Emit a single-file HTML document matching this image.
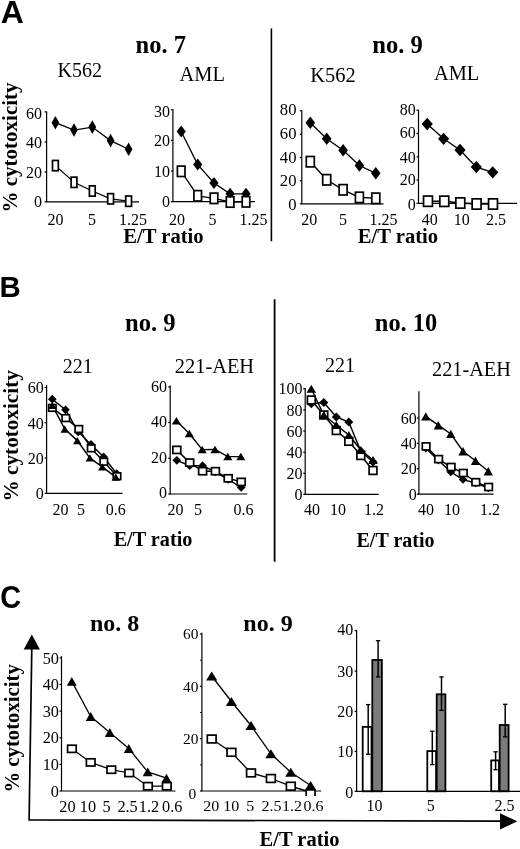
<!DOCTYPE html>
<html><head><meta charset="utf-8"><title>Figure</title>
<style>
html,body{margin:0;padding:0;background:#fff;}
body{width:520px;height:849px;overflow:hidden;}
svg{display:block;filter:grayscale(1);}
.sf{font-family:"Liberation Serif",serif;fill:#000;}
.ss{font-family:"Liberation Sans",sans-serif;fill:#000;}
.b{font-weight:bold;}
</style></head><body>
<svg width="520" height="849" viewBox="0 0 520 849">
<rect x="0" y="0" width="520" height="849" fill="#fff"/>
<text x="0" y="0" font-size="30.9" class="ss b" transform="translate(0.7 23.2) scale(1.035 1)">A</text>
<text x="160.8" y="52.6" font-size="24.5" text-anchor="middle" class="sf b">no. 7</text>
<text x="397.5" y="53.3" font-size="24.6" text-anchor="middle" class="sf b">no. 9</text>
<text x="57.5" y="77.2" font-size="20" text-anchor="start" class="sf">K562</text>
<text x="179.6" y="81.4" font-size="20.4" text-anchor="start" class="sf">AML</text>
<text x="310.2" y="81.6" font-size="20.5" text-anchor="start" class="sf">K562</text>
<text x="434" y="80" font-size="20.4" text-anchor="start" class="sf">AML</text>
<text x="16.8" y="212.5" font-size="21.0" text-anchor="start" class="sf b" transform="rotate(-90 16.8 212.5)">% cytotoxicity</text>
<text x="163.5" y="243.3" font-size="20.6" text-anchor="middle" class="sf b">E/T ratio</text>
<text x="398" y="243.3" font-size="20.6" text-anchor="middle" class="sf b">E/T ratio</text>
<line x1="271.4" y1="28.5" x2="271.4" y2="241.2" stroke="#000" stroke-width="1.6"/>
<line x1="46.6" y1="111.4" x2="46.6" y2="201.8" stroke="#000" stroke-width="1.2"/>
<line x1="46.0" y1="201.8" x2="139" y2="201.8" stroke="#000" stroke-width="1.2"/>
<line x1="44.6" y1="111.9" x2="46.6" y2="111.9" stroke="#000" stroke-width="1.2"/>
<text x="42.1" y="118.91" font-size="16" text-anchor="end" class="sf">60</text>
<line x1="44.6" y1="142" x2="46.6" y2="142" stroke="#000" stroke-width="1.2"/>
<text x="42.1" y="148.31" font-size="16" text-anchor="end" class="sf">40</text>
<line x1="44.6" y1="171.9" x2="46.6" y2="171.9" stroke="#000" stroke-width="1.2"/>
<text x="42.1" y="178.11" font-size="16" text-anchor="end" class="sf">20</text>
<line x1="44.6" y1="201.8" x2="46.6" y2="201.8" stroke="#000" stroke-width="1.2"/>
<text x="42.1" y="207.31" font-size="16" text-anchor="end" class="sf">0</text>
<text x="55.4" y="224.6" font-size="16" text-anchor="middle" class="sf">20</text>
<text x="92" y="224.6" font-size="16" text-anchor="middle" class="sf">5</text>
<text x="133" y="224.6" font-size="16" text-anchor="middle" class="sf">1.25</text>
<polyline points="55.4,122.7 74,130 92.3,127.1 110.6,140.6 128.6,149.2" fill="none" stroke="#000" stroke-width="1.25"/>
<polyline points="55.4,165.6 74,182.3 92.3,191 110.6,198.8 128.6,201.2" fill="none" stroke="#000" stroke-width="1.25"/>
<polygon points="55.4,115.9 59.25,122.7 55.4,129.5 51.55,122.7" fill="#000"/>
<polygon points="74,123.2 77.85,130 74,136.8 70.15,130" fill="#000"/>
<polygon points="92.3,120.3 96.14999999999999,127.1 92.3,133.9 88.45,127.1" fill="#000"/>
<polygon points="110.6,133.79999999999998 114.44999999999999,140.6 110.6,147.4 106.75,140.6" fill="#000"/>
<polygon points="128.6,142.39999999999998 132.45,149.2 128.6,156.0 124.75,149.2" fill="#000"/>
<rect x="52.5" y="160.45" width="5.8" height="10.3" fill="#fff" stroke="#000" stroke-width="1.7"/>
<rect x="71.1" y="177.15" width="5.8" height="10.3" fill="#fff" stroke="#000" stroke-width="1.7"/>
<rect x="89.39999999999999" y="185.85" width="5.8" height="10.3" fill="#fff" stroke="#000" stroke-width="1.7"/>
<rect x="107.69999999999999" y="193.65" width="5.8" height="10.3" fill="#fff" stroke="#000" stroke-width="1.7"/>
<rect x="125.69999999999999" y="196.04999999999998" width="5.8" height="10.3" fill="#fff" stroke="#000" stroke-width="1.7"/>
<line x1="172.9" y1="109.3" x2="172.9" y2="201.7" stroke="#000" stroke-width="1.2"/>
<line x1="172.3" y1="201.7" x2="255" y2="201.7" stroke="#000" stroke-width="1.2"/>
<line x1="170.9" y1="109.8" x2="172.9" y2="109.8" stroke="#000" stroke-width="1.2"/>
<text x="170.1" y="117.31" font-size="16" text-anchor="end" class="sf">30</text>
<line x1="170.9" y1="140.3" x2="172.9" y2="140.3" stroke="#000" stroke-width="1.2"/>
<text x="170.1" y="146.11" font-size="16" text-anchor="end" class="sf">20</text>
<line x1="170.9" y1="171" x2="172.9" y2="171" stroke="#000" stroke-width="1.2"/>
<text x="170.1" y="176.81" font-size="16" text-anchor="end" class="sf">10</text>
<line x1="170.9" y1="201.7" x2="172.9" y2="201.7" stroke="#000" stroke-width="1.2"/>
<text x="170.1" y="206.71" font-size="16" text-anchor="end" class="sf">0</text>
<text x="177" y="224.6" font-size="16" text-anchor="middle" class="sf">20</text>
<text x="212.6" y="224.6" font-size="16" text-anchor="middle" class="sf">5</text>
<text x="253.5" y="224.6" font-size="16" text-anchor="middle" class="sf">1.25</text>
<polyline points="181.2,131.5 197.7,164.6 214,183 230.1,193.8 246,193.8" fill="none" stroke="#000" stroke-width="1.3"/>
<polyline points="181.2,171.3 197.7,195.8 214,198.3 230.1,202 246,201.8" fill="none" stroke="#000" stroke-width="1.3"/>
<polygon points="181.2,125.5 185.79999999999998,131.5 181.2,137.5 176.6,131.5" fill="#000"/>
<polygon points="197.7,158.6 202.29999999999998,164.6 197.7,170.6 193.1,164.6" fill="#000"/>
<polygon points="214,177.0 218.6,183 214,189.0 209.4,183" fill="#000"/>
<polygon points="230.1,187.8 234.7,193.8 230.1,199.8 225.5,193.8" fill="#000"/>
<polygon points="246,187.8 250.6,193.8 246,199.8 241.4,193.8" fill="#000"/>
<rect x="177.39999999999998" y="166.10000000000002" width="7.6" height="10.4" fill="#fff" stroke="#000" stroke-width="1.7"/>
<rect x="193.89999999999998" y="190.60000000000002" width="7.6" height="10.4" fill="#fff" stroke="#000" stroke-width="1.7"/>
<rect x="210.2" y="193.10000000000002" width="7.6" height="10.4" fill="#fff" stroke="#000" stroke-width="1.7"/>
<rect x="226.29999999999998" y="196.8" width="7.6" height="10.4" fill="#fff" stroke="#000" stroke-width="1.7"/>
<rect x="242.2" y="196.60000000000002" width="7.6" height="10.4" fill="#fff" stroke="#000" stroke-width="1.7"/>
<line x1="301.8" y1="110.3" x2="301.8" y2="203.8" stroke="#000" stroke-width="1.2"/>
<line x1="301.2" y1="203.8" x2="383.5" y2="203.8" stroke="#000" stroke-width="1.2"/>
<line x1="299.8" y1="110.8" x2="301.8" y2="110.8" stroke="#000" stroke-width="1.2"/>
<text x="296.5" y="115.11" font-size="16" text-anchor="end" class="sf" textLength="16.64" lengthAdjust="spacingAndGlyphs">80</text>
<line x1="299.8" y1="134.3" x2="301.8" y2="134.3" stroke="#000" stroke-width="1.2"/>
<text x="296.5" y="138.81" font-size="16" text-anchor="end" class="sf" textLength="16.64" lengthAdjust="spacingAndGlyphs">60</text>
<line x1="299.8" y1="157.5" x2="301.8" y2="157.5" stroke="#000" stroke-width="1.2"/>
<text x="296.5" y="163.01" font-size="16" text-anchor="end" class="sf" textLength="16.64" lengthAdjust="spacingAndGlyphs">40</text>
<line x1="299.8" y1="180.8" x2="301.8" y2="180.8" stroke="#000" stroke-width="1.2"/>
<text x="296.5" y="185.51" font-size="16" text-anchor="end" class="sf" textLength="16.64" lengthAdjust="spacingAndGlyphs">20</text>
<line x1="299.8" y1="203.8" x2="301.8" y2="203.8" stroke="#000" stroke-width="1.2"/>
<text x="296.5" y="210.01" font-size="16" text-anchor="end" class="sf" textLength="8.32" lengthAdjust="spacingAndGlyphs">0</text>
<text x="309.2" y="224.7" font-size="16" text-anchor="middle" class="sf">20</text>
<text x="343" y="224.7" font-size="16" text-anchor="middle" class="sf">5</text>
<text x="383.5" y="224.7" font-size="16" text-anchor="middle" class="sf">1.25</text>
<polyline points="310.3,122.7 326.7,138.8 343.1,150.3 359.4,165.5 375.8,173.3" fill="none" stroke="#000" stroke-width="1.35"/>
<polyline points="310.3,161.7 326.7,179.8 343.1,189.8 359.4,197.4 375.8,198.3" fill="none" stroke="#000" stroke-width="1.45"/>
<polygon points="310.3,116.5 315.1,122.7 310.3,128.9 305.5,122.7" fill="#000"/>
<polygon points="326.7,132.60000000000002 331.5,138.8 326.7,145.0 321.9,138.8" fill="#000"/>
<polygon points="343.1,144.10000000000002 347.90000000000003,150.3 343.1,156.5 338.3,150.3" fill="#000"/>
<polygon points="359.4,159.3 364.2,165.5 359.4,171.7 354.59999999999997,165.5" fill="#000"/>
<polygon points="375.8,167.10000000000002 380.6,173.3 375.8,179.5 371.0,173.3" fill="#000"/>
<rect x="306.3" y="156.5" width="8" height="10.4" fill="#fff" stroke="#000" stroke-width="1.7"/>
<rect x="322.7" y="174.60000000000002" width="8" height="10.4" fill="#fff" stroke="#000" stroke-width="1.7"/>
<rect x="339.1" y="184.60000000000002" width="8" height="10.4" fill="#fff" stroke="#000" stroke-width="1.7"/>
<rect x="355.4" y="192.20000000000002" width="8" height="10.4" fill="#fff" stroke="#000" stroke-width="1.7"/>
<rect x="371.8" y="193.10000000000002" width="8" height="10.4" fill="#fff" stroke="#000" stroke-width="1.7"/>
<line x1="418.5" y1="109.7" x2="418.5" y2="203.3" stroke="#000" stroke-width="1.2"/>
<line x1="417.9" y1="203.3" x2="517" y2="203.3" stroke="#000" stroke-width="1.2"/>
<line x1="416.5" y1="110.2" x2="418.5" y2="110.2" stroke="#000" stroke-width="1.2"/>
<text x="415.7" y="114.61" font-size="16" text-anchor="end" class="sf">80</text>
<line x1="416.5" y1="133.5" x2="418.5" y2="133.5" stroke="#000" stroke-width="1.2"/>
<text x="415.7" y="138.31" font-size="16" text-anchor="end" class="sf">60</text>
<line x1="416.5" y1="156.9" x2="418.5" y2="156.9" stroke="#000" stroke-width="1.2"/>
<text x="415.7" y="162.71" font-size="16" text-anchor="end" class="sf">40</text>
<line x1="416.5" y1="180.1" x2="418.5" y2="180.1" stroke="#000" stroke-width="1.2"/>
<text x="415.7" y="185.41" font-size="16" text-anchor="end" class="sf">20</text>
<line x1="416.5" y1="203.3" x2="418.5" y2="203.3" stroke="#000" stroke-width="1.2"/>
<text x="415.7" y="209.71" font-size="16" text-anchor="end" class="sf">0</text>
<text x="429.8" y="224.6" font-size="16" text-anchor="middle" class="sf">40</text>
<text x="461.7" y="224.6" font-size="16" text-anchor="middle" class="sf">10</text>
<text x="496" y="224.6" font-size="16" text-anchor="middle" class="sf">2.5</text>
<polyline points="427.2,124 443.6,138.8 460,150 476.3,167.1 492.7,172.3" fill="none" stroke="#000" stroke-width="1.35"/>
<polyline points="428,201.2 444.3,201.3 460.3,203 476.6,204 493,204" fill="none" stroke="#000" stroke-width="1.45"/>
<polygon points="427.2,117.85 432.8,124 427.2,130.15 421.59999999999997,124" fill="#000"/>
<polygon points="443.6,132.65 449.20000000000005,138.8 443.6,144.95000000000002 438.0,138.8" fill="#000"/>
<polygon points="460,143.85 465.6,150 460,156.15 454.4,150" fill="#000"/>
<polygon points="476.3,160.95 481.90000000000003,167.1 476.3,173.25 470.7,167.1" fill="#000"/>
<polygon points="492.7,166.15 498.3,172.3 492.7,178.45000000000002 487.09999999999997,172.3" fill="#000"/>
<rect x="423.55" y="196.04999999999998" width="8.9" height="10.3" fill="#fff" stroke="#000" stroke-width="1.7"/>
<rect x="439.85" y="196.15" width="8.9" height="10.3" fill="#fff" stroke="#000" stroke-width="1.7"/>
<rect x="455.85" y="197.85" width="8.9" height="10.3" fill="#fff" stroke="#000" stroke-width="1.7"/>
<rect x="472.15000000000003" y="198.85" width="8.9" height="10.3" fill="#fff" stroke="#000" stroke-width="1.7"/>
<rect x="488.55" y="198.85" width="8.9" height="10.3" fill="#fff" stroke="#000" stroke-width="1.7"/>
<text x="0" y="0" font-size="30.2" class="ss b" transform="translate(-0.5 296.9) scale(0.975 1)">B</text>
<text x="150.3" y="331.2" font-size="24.6" text-anchor="middle" class="sf b">no. 9</text>
<text x="406" y="331" font-size="24.4" text-anchor="middle" class="sf b">no. 10</text>
<text x="62.7" y="372.6" font-size="20" text-anchor="start" class="sf">221</text>
<text x="174.8" y="373.4" font-size="20.4" text-anchor="start" class="sf">221-AEH</text>
<text x="325" y="371.5" font-size="20" text-anchor="start" class="sf">221</text>
<text x="432" y="375.7" font-size="20.3" text-anchor="start" class="sf">221-AEH</text>
<text x="17.7" y="501.4" font-size="21.2" text-anchor="start" class="sf b" transform="rotate(-90 17.7 501.4)">% cytotoxicity</text>
<text x="153" y="545.8" font-size="20.2" text-anchor="middle" class="sf b">E/T ratio</text>
<text x="395.5" y="546.7" font-size="20" text-anchor="middle" class="sf b">E/T ratio</text>
<line x1="274.6" y1="299.3" x2="274.6" y2="561.8" stroke="#000" stroke-width="1.8"/>
<line x1="46.6" y1="385.3" x2="46.6" y2="493.3" stroke="#000" stroke-width="1.2"/>
<line x1="46.0" y1="493.3" x2="122.5" y2="493.3" stroke="#000" stroke-width="1.2"/>
<line x1="44.6" y1="387.5" x2="46.6" y2="387.5" stroke="#000" stroke-width="1.2"/>
<text x="43.7" y="393.21" font-size="16" text-anchor="end" class="sf">60</text>
<line x1="44.6" y1="422.8" x2="46.6" y2="422.8" stroke="#000" stroke-width="1.2"/>
<text x="43.7" y="428.51" font-size="16" text-anchor="end" class="sf">40</text>
<line x1="44.6" y1="458" x2="46.6" y2="458" stroke="#000" stroke-width="1.2"/>
<text x="43.7" y="463.91" font-size="16" text-anchor="end" class="sf">20</text>
<line x1="44.6" y1="493.3" x2="46.6" y2="493.3" stroke="#000" stroke-width="1.2"/>
<text x="43.7" y="499.21" font-size="16" text-anchor="end" class="sf">0</text>
<text x="60.4" y="515" font-size="16" text-anchor="middle" class="sf">20</text>
<text x="81" y="515" font-size="16" text-anchor="middle" class="sf">5</text>
<text x="115.7" y="515" font-size="16" text-anchor="middle" class="sf">0.6</text>
<polyline points="52.3,399.2 65.5,409.8 78.3,431.9 91,444.4 103.7,456.9 116.7,473.7" fill="none" stroke="#000" stroke-width="1.45"/>
<polyline points="52.3,407.9 65.8,418.1 78.8,429 91.2,448.3 103.8,461.7 117,476.2" fill="none" stroke="#000" stroke-width="1.45"/>
<polyline points="52.3,405.3 64.8,429 77.3,440.6 89.8,457.9 102.3,466.9 115.8,477.1" fill="none" stroke="#000" stroke-width="1.45"/>
<polygon points="52.3,394.84999999999997 56.65,399.2 52.3,403.55 47.949999999999996,399.2" fill="#000"/>
<polygon points="65.5,405.45 69.85,409.8 65.5,414.15000000000003 61.15,409.8" fill="#000"/>
<polygon points="78.3,427.54999999999995 82.64999999999999,431.9 78.3,436.25 73.95,431.9" fill="#000"/>
<polygon points="91,440.04999999999995 95.35,444.4 91,448.75 86.65,444.4" fill="#000"/>
<polygon points="103.7,452.54999999999995 108.05,456.9 103.7,461.25 99.35000000000001,456.9" fill="#000"/>
<polygon points="116.7,469.34999999999997 121.05,473.7 116.7,478.05 112.35000000000001,473.7" fill="#000"/>
<rect x="48.599999999999994" y="404.54999999999995" width="7.4" height="6.7" fill="#fff" stroke="#000" stroke-width="1.7"/>
<rect x="62.099999999999994" y="414.75" width="7.4" height="6.7" fill="#fff" stroke="#000" stroke-width="1.7"/>
<rect x="75.1" y="425.65" width="7.4" height="6.7" fill="#fff" stroke="#000" stroke-width="1.7"/>
<rect x="87.5" y="444.95" width="7.4" height="6.7" fill="#fff" stroke="#000" stroke-width="1.7"/>
<rect x="100.1" y="458.34999999999997" width="7.4" height="6.7" fill="#fff" stroke="#000" stroke-width="1.7"/>
<rect x="113.3" y="472.84999999999997" width="7.4" height="6.7" fill="#fff" stroke="#000" stroke-width="1.7"/>
<polygon points="52.3,401.65000000000003 56.5,408.95 48.099999999999994,408.95" fill="#000"/>
<polygon points="64.8,425.35 69.0,432.65 60.599999999999994,432.65" fill="#000"/>
<polygon points="77.3,436.95000000000005 81.5,444.25 73.1,444.25" fill="#000"/>
<polygon points="89.8,454.25 94.0,461.54999999999995 85.6,461.54999999999995" fill="#000"/>
<polygon points="102.3,463.25 106.5,470.54999999999995 98.1,470.54999999999995" fill="#000"/>
<polygon points="115.8,473.45000000000005 120.0,480.75 111.6,480.75" fill="#000"/>
<line x1="170.2" y1="385.5" x2="170.2" y2="494" stroke="#000" stroke-width="1.2"/>
<line x1="169.6" y1="494" x2="247.3" y2="494" stroke="#000" stroke-width="1.2"/>
<line x1="168.2" y1="387" x2="170.2" y2="387" stroke="#000" stroke-width="1.2"/>
<text x="166.9" y="392.31" font-size="16" text-anchor="end" class="sf">60</text>
<line x1="168.2" y1="422.5" x2="170.2" y2="422.5" stroke="#000" stroke-width="1.2"/>
<text x="166.9" y="427.41" font-size="16" text-anchor="end" class="sf">40</text>
<line x1="168.2" y1="458.2" x2="170.2" y2="458.2" stroke="#000" stroke-width="1.2"/>
<text x="166.9" y="462.71" font-size="16" text-anchor="end" class="sf">20</text>
<line x1="168.2" y1="494" x2="170.2" y2="494" stroke="#000" stroke-width="1.2"/>
<text x="166.9" y="498.41" font-size="16" text-anchor="end" class="sf">0</text>
<text x="175.6" y="515.2" font-size="16" text-anchor="middle" class="sf">20</text>
<text x="197.9" y="515.2" font-size="16" text-anchor="middle" class="sf">5</text>
<text x="243.6" y="515.2" font-size="16" text-anchor="middle" class="sf">0.6</text>
<polyline points="176.8,460.3 189.7,465.7 202.6,465.7 215.4,472 228.2,479.4 241.2,487.5" fill="none" stroke="#000" stroke-width="1.45"/>
<polyline points="176.8,449.9 189.7,462.6 202.6,471.2 215.4,471.2 228.2,478.3 241.2,481.9" fill="none" stroke="#000" stroke-width="1.45"/>
<polyline points="176.4,420.8 189.29999999999998,433.6 202.2,449.6 215.0,449.4 227.79999999999998,456.6 240.79999999999998,456.6" fill="none" stroke="#000" stroke-width="1.45"/>
<polygon points="176.8,455.95 181.15,460.3 176.8,464.65000000000003 172.45000000000002,460.3" fill="#000"/>
<polygon points="189.7,461.34999999999997 194.04999999999998,465.7 189.7,470.05 185.35,465.7" fill="#000"/>
<polygon points="202.6,461.34999999999997 206.95,465.7 202.6,470.05 198.25,465.7" fill="#000"/>
<polygon points="215.4,467.65 219.75,472 215.4,476.35 211.05,472" fill="#000"/>
<polygon points="228.2,475.04999999999995 232.54999999999998,479.4 228.2,483.75 223.85,479.4" fill="#000"/>
<polygon points="241.2,483.15 245.54999999999998,487.5 241.2,491.85 236.85,487.5" fill="#000"/>
<rect x="172.85000000000002" y="446.34999999999997" width="7.9" height="7.1" fill="#fff" stroke="#000" stroke-width="1.7"/>
<rect x="185.75" y="459.05" width="7.9" height="7.1" fill="#fff" stroke="#000" stroke-width="1.7"/>
<rect x="198.65" y="467.65" width="7.9" height="7.1" fill="#fff" stroke="#000" stroke-width="1.7"/>
<rect x="211.45000000000002" y="467.65" width="7.9" height="7.1" fill="#fff" stroke="#000" stroke-width="1.7"/>
<rect x="224.25" y="474.75" width="7.9" height="7.1" fill="#fff" stroke="#000" stroke-width="1.7"/>
<rect x="237.25" y="478.34999999999997" width="7.9" height="7.1" fill="#fff" stroke="#000" stroke-width="1.7"/>
<polygon points="176.4,417.05 180.95000000000002,424.55 171.85,424.55" fill="#000"/>
<polygon points="189.29999999999998,429.85 193.85,437.35 184.74999999999997,437.35" fill="#000"/>
<polygon points="202.2,445.85 206.75,453.35 197.64999999999998,453.35" fill="#000"/>
<polygon points="215.0,445.65 219.55,453.15 210.45,453.15" fill="#000"/>
<polygon points="227.79999999999998,452.85 232.35,460.35 223.24999999999997,460.35" fill="#000"/>
<polygon points="240.79999999999998,452.85 245.35,460.35 236.24999999999997,460.35" fill="#000"/>
<line x1="305.2" y1="388.0" x2="305.2" y2="494.4" stroke="#000" stroke-width="1.2"/>
<line x1="304.59999999999997" y1="494.4" x2="378.8" y2="494.4" stroke="#000" stroke-width="1.2"/>
<line x1="303.2" y1="388.8" x2="305.2" y2="388.8" stroke="#000" stroke-width="1.2"/>
<text x="302.6" y="394.31" font-size="16" text-anchor="end" class="sf">100</text>
<line x1="303.2" y1="409.9" x2="305.2" y2="409.9" stroke="#000" stroke-width="1.2"/>
<text x="302.6" y="416.01" font-size="16" text-anchor="end" class="sf">80</text>
<line x1="303.2" y1="431" x2="305.2" y2="431" stroke="#000" stroke-width="1.2"/>
<text x="302.6" y="437.21" font-size="16" text-anchor="end" class="sf">60</text>
<line x1="303.2" y1="452.2" x2="305.2" y2="452.2" stroke="#000" stroke-width="1.2"/>
<text x="302.6" y="458.11" font-size="16" text-anchor="end" class="sf">40</text>
<line x1="303.2" y1="473.3" x2="305.2" y2="473.3" stroke="#000" stroke-width="1.2"/>
<text x="302.6" y="479.31" font-size="16" text-anchor="end" class="sf">20</text>
<line x1="303.2" y1="494.4" x2="305.2" y2="494.4" stroke="#000" stroke-width="1.2"/>
<text x="302.6" y="500.01" font-size="16" text-anchor="end" class="sf">0</text>
<text x="312" y="514.6" font-size="16" text-anchor="middle" class="sf">40</text>
<text x="338" y="514.6" font-size="16" text-anchor="middle" class="sf">10</text>
<text x="374" y="514.6" font-size="16" text-anchor="middle" class="sf">1.2</text>
<polyline points="311.3,403.8 323.8,402.5 336.3,417 348.8,422 360.8,451.3 373,462" fill="none" stroke="#000" stroke-width="1.45"/>
<polyline points="311.3,400 323.8,415 336.3,430.5 348.8,441.3 360.8,455.5 373,470.5" fill="none" stroke="#000" stroke-width="1.45"/>
<polyline points="311.3,388.8 323.8,415 336.3,425 348.8,435 360.8,450 373,460" fill="none" stroke="#000" stroke-width="1.45"/>
<polygon points="311.3,399.3 315.8,403.8 311.3,408.3 306.8,403.8" fill="#000"/>
<polygon points="323.8,398.0 328.3,402.5 323.8,407.0 319.3,402.5" fill="#000"/>
<polygon points="336.3,412.5 340.8,417 336.3,421.5 331.8,417" fill="#000"/>
<polygon points="348.8,417.5 353.3,422 348.8,426.5 344.3,422" fill="#000"/>
<polygon points="360.8,446.8 365.3,451.3 360.8,455.8 356.3,451.3" fill="#000"/>
<polygon points="373,457.5 377.5,462 373,466.5 368.5,462" fill="#000"/>
<rect x="307.40000000000003" y="396.1" width="7.8" height="7.8" fill="#fff" stroke="#000" stroke-width="1.7"/>
<rect x="319.90000000000003" y="411.1" width="7.8" height="7.8" fill="#fff" stroke="#000" stroke-width="1.7"/>
<rect x="332.40000000000003" y="426.6" width="7.8" height="7.8" fill="#fff" stroke="#000" stroke-width="1.7"/>
<rect x="344.90000000000003" y="437.40000000000003" width="7.8" height="7.8" fill="#fff" stroke="#000" stroke-width="1.7"/>
<rect x="356.90000000000003" y="451.6" width="7.8" height="7.8" fill="#fff" stroke="#000" stroke-width="1.7"/>
<rect x="369.1" y="466.6" width="7.8" height="7.8" fill="#fff" stroke="#000" stroke-width="1.7"/>
<polygon points="311.3,384.8 316.05,392.8 306.55,392.8" fill="#000"/>
<polygon points="323.8,411.0 328.55,419.0 319.05,419.0" fill="#000"/>
<polygon points="336.3,421.0 341.05,429.0 331.55,429.0" fill="#000"/>
<polygon points="348.8,431.0 353.55,439.0 344.05,439.0" fill="#000"/>
<polygon points="360.8,446.0 365.55,454.0 356.05,454.0" fill="#000"/>
<polygon points="373,456.0 377.75,464.0 368.25,464.0" fill="#000"/>
<line x1="418.9" y1="391.3" x2="418.9" y2="494.2" stroke="#000" stroke-width="1.2"/>
<line x1="418.29999999999995" y1="494.2" x2="493.6" y2="494.2" stroke="#000" stroke-width="1.2"/>
<line x1="416.9" y1="418" x2="418.9" y2="418" stroke="#000" stroke-width="1.2"/>
<text x="416.8" y="423.71" font-size="16" text-anchor="end" class="sf">60</text>
<line x1="416.9" y1="443.4" x2="418.9" y2="443.4" stroke="#000" stroke-width="1.2"/>
<text x="416.8" y="449.31" font-size="16" text-anchor="end" class="sf">40</text>
<line x1="416.9" y1="468.8" x2="418.9" y2="468.8" stroke="#000" stroke-width="1.2"/>
<text x="416.8" y="474.01" font-size="16" text-anchor="end" class="sf">20</text>
<line x1="416.9" y1="494.2" x2="418.9" y2="494.2" stroke="#000" stroke-width="1.2"/>
<text x="416.8" y="500.01" font-size="16" text-anchor="end" class="sf">0</text>
<text x="426" y="514.8" font-size="16" text-anchor="middle" class="sf">40</text>
<text x="452" y="514.8" font-size="16" text-anchor="middle" class="sf">10</text>
<text x="490" y="514.8" font-size="16" text-anchor="middle" class="sf">1.2</text>
<polyline points="425.8,448.3 438.3,460.3 450.8,471.9 463,479.6 475.5,483 488.3,488" fill="none" stroke="#000" stroke-width="1.45"/>
<polyline points="426.1,446.4 438.6,459.1 451.1,467 463.3,473 475.8,482.2 488.6,487" fill="none" stroke="#000" stroke-width="1.45"/>
<polyline points="425.8,416.4 438.3,425.2 450.8,433.9 463,451.2 475.5,460.8 488.3,471.2" fill="none" stroke="#000" stroke-width="1.45"/>
<polygon points="425.8,444.05 430.05,448.3 425.8,452.55 421.55,448.3" fill="#000"/>
<polygon points="438.3,456.05 442.55,460.3 438.3,464.55 434.05,460.3" fill="#000"/>
<polygon points="450.8,467.65 455.05,471.9 450.8,476.15 446.55,471.9" fill="#000"/>
<polygon points="463,475.35 467.25,479.6 463,483.85 458.75,479.6" fill="#000"/>
<polygon points="475.5,478.75 479.75,483 475.5,487.25 471.25,483" fill="#000"/>
<polygon points="488.3,483.75 492.55,488 488.3,492.25 484.05,488" fill="#000"/>
<rect x="422.3" y="442.9" width="7.6" height="7" fill="#fff" stroke="#000" stroke-width="1.7"/>
<rect x="434.8" y="455.6" width="7.6" height="7" fill="#fff" stroke="#000" stroke-width="1.7"/>
<rect x="447.3" y="463.5" width="7.6" height="7" fill="#fff" stroke="#000" stroke-width="1.7"/>
<rect x="459.5" y="469.5" width="7.6" height="7" fill="#fff" stroke="#000" stroke-width="1.7"/>
<rect x="472.0" y="478.7" width="7.6" height="7" fill="#fff" stroke="#000" stroke-width="1.7"/>
<rect x="484.8" y="483.5" width="7.6" height="7" fill="#fff" stroke="#000" stroke-width="1.7"/>
<polygon points="425.8,412.2 430.40000000000003,420.59999999999997 421.2,420.59999999999997" fill="#000"/>
<polygon points="438.3,421.0 442.90000000000003,429.4 433.7,429.4" fill="#000"/>
<polygon points="450.8,429.7 455.40000000000003,438.09999999999997 446.2,438.09999999999997" fill="#000"/>
<polygon points="463,447.0 467.6,455.4 458.4,455.4" fill="#000"/>
<polygon points="475.5,456.6 480.1,465.0 470.9,465.0" fill="#000"/>
<polygon points="488.3,467.0 492.90000000000003,475.4 483.7,475.4" fill="#000"/>
<text x="0" y="0" font-size="31.4" class="ss b" transform="translate(0.15 607.9) scale(0.92 1)">C</text>
<text x="90" y="630.5" font-size="24" text-anchor="start" class="sf b">no. 8</text>
<text x="268" y="630.8" font-size="24" text-anchor="middle" class="sf b">no. 9</text>
<text x="19.4" y="792.6" font-size="20.75" text-anchor="start" class="sf b" transform="rotate(-90 19.4 792.6)">% cytotoxicity</text>
<text x="299.5" y="845.8" font-size="20.5" text-anchor="middle" class="sf b">E/T ratio</text>
<polyline points="31.8,648 29.1,819.9 501,821.2" fill="none" stroke="#000" stroke-width="1.7" stroke-linejoin="miter"/>
<polygon points="31.8,634.6 39.9,649.6 23.7,649.6" fill="#000"/>
<polygon points="517.3,821.3 500,813.2 500,829.5" fill="#000"/>
<line x1="61.5" y1="656.1" x2="61.5" y2="791" stroke="#000" stroke-width="1.2"/>
<line x1="60.9" y1="791" x2="175.5" y2="791" stroke="#000" stroke-width="1.2"/>
<line x1="59.5" y1="657.9" x2="61.5" y2="657.9" stroke="#000" stroke-width="1.2"/>
<text x="59.0" y="663.81" font-size="16.3" text-anchor="end" class="sf">50</text>
<line x1="59.5" y1="684.5" x2="61.5" y2="684.5" stroke="#000" stroke-width="1.2"/>
<text x="59.0" y="690.11" font-size="16.3" text-anchor="end" class="sf">40</text>
<line x1="59.5" y1="711.1" x2="61.5" y2="711.1" stroke="#000" stroke-width="1.2"/>
<text x="59.0" y="716.91" font-size="16.3" text-anchor="end" class="sf">30</text>
<line x1="59.5" y1="737.8" x2="61.5" y2="737.8" stroke="#000" stroke-width="1.2"/>
<text x="59.0" y="743.41" font-size="16.3" text-anchor="end" class="sf">20</text>
<line x1="59.5" y1="764.4" x2="61.5" y2="764.4" stroke="#000" stroke-width="1.2"/>
<text x="59.0" y="769.71" font-size="16.3" text-anchor="end" class="sf">10</text>
<line x1="59.5" y1="791" x2="61.5" y2="791" stroke="#000" stroke-width="1.2"/>
<text x="59.0" y="797.11" font-size="16.3" text-anchor="end" class="sf">0</text>
<text x="67.4" y="812.2" font-size="16.3" text-anchor="middle" class="sf">20</text>
<text x="88" y="812.2" font-size="16.3" text-anchor="middle" class="sf">10</text>
<text x="106.5" y="812.2" font-size="16.3" text-anchor="middle" class="sf">5</text>
<text x="127.6" y="812.2" font-size="16.3" text-anchor="middle" class="sf">2.5</text>
<text x="149" y="812.2" font-size="16.3" text-anchor="middle" class="sf">1.2</text>
<text x="172.3" y="812.2" font-size="16.3" text-anchor="middle" class="sf">0.6</text>
<polyline points="71.9,748.8 90.7,762.4 111.3,769.7 129.2,773 147.9,786.2 166.8,786.2" fill="none" stroke="#000" stroke-width="1.25"/>
<polyline points="71.8,681.4 90.7,716.5 109.8,732.5 128.8,748.5 147.7,771.9 166.5,778.2" fill="none" stroke="#000" stroke-width="1.25"/>
<rect x="67.60000000000001" y="745.1999999999999" width="8.6" height="7.2" fill="#fff" stroke="#000" stroke-width="1.7"/>
<rect x="86.4" y="758.8" width="8.6" height="7.2" fill="#fff" stroke="#000" stroke-width="1.7"/>
<rect x="107.0" y="766.1" width="8.6" height="7.2" fill="#fff" stroke="#000" stroke-width="1.7"/>
<rect x="124.89999999999999" y="769.4" width="8.6" height="7.2" fill="#fff" stroke="#000" stroke-width="1.7"/>
<rect x="143.6" y="782.6" width="8.6" height="7.2" fill="#fff" stroke="#000" stroke-width="1.7"/>
<rect x="162.5" y="782.6" width="8.6" height="7.2" fill="#fff" stroke="#000" stroke-width="1.7"/>
<polygon points="71.8,677.0 76.75,685.8 66.85,685.8" fill="#000"/>
<polygon points="90.7,712.1 95.65,720.9 85.75,720.9" fill="#000"/>
<polygon points="109.8,728.1 114.75,736.9 104.85,736.9" fill="#000"/>
<polygon points="128.8,744.1 133.75,752.9 123.85000000000001,752.9" fill="#000"/>
<polygon points="147.7,767.5 152.64999999999998,776.3 142.75,776.3" fill="#000"/>
<polygon points="166.5,773.8000000000001 171.45,782.6 161.55,782.6" fill="#000"/>
<line x1="201.9" y1="632.7" x2="201.9" y2="791" stroke="#000" stroke-width="1.2"/>
<line x1="201.3" y1="791" x2="321.2" y2="791" stroke="#000" stroke-width="1.2"/>
<line x1="199.9" y1="634" x2="201.9" y2="634" stroke="#000" stroke-width="1.2"/>
<text x="198.5" y="639.41" font-size="15.4" text-anchor="end" class="sf">60</text>
<line x1="199.9" y1="686.3" x2="201.9" y2="686.3" stroke="#000" stroke-width="1.2"/>
<text x="198.5" y="691.71" font-size="15.4" text-anchor="end" class="sf">40</text>
<line x1="199.9" y1="738.7" x2="201.9" y2="738.7" stroke="#000" stroke-width="1.2"/>
<text x="198.5" y="744.01" font-size="15.4" text-anchor="end" class="sf">20</text>
<line x1="199.9" y1="791" x2="201.9" y2="791" stroke="#000" stroke-width="1.2"/>
<text x="196.3" y="799.11" font-size="15.4" text-anchor="end" class="sf">0</text>
<text x="211.3" y="810.5" font-size="15.4" text-anchor="middle" class="sf" textLength="16.02" lengthAdjust="spacingAndGlyphs">20</text>
<text x="231.3" y="810.5" font-size="15.4" text-anchor="middle" class="sf" textLength="16.02" lengthAdjust="spacingAndGlyphs">10</text>
<text x="250.3" y="810.5" font-size="15.4" text-anchor="middle" class="sf" textLength="8.01" lengthAdjust="spacingAndGlyphs">5</text>
<text x="271.6" y="810.5" font-size="15.4" text-anchor="middle" class="sf" textLength="20.02" lengthAdjust="spacingAndGlyphs">2.5</text>
<text x="292" y="810.5" font-size="15.4" text-anchor="middle" class="sf" textLength="20.02" lengthAdjust="spacingAndGlyphs">1.2</text>
<text x="313.6" y="810.5" font-size="15.4" text-anchor="middle" class="sf" textLength="20.02" lengthAdjust="spacingAndGlyphs">0.6</text>
<polyline points="211.7,739 231.4,752.3 251,772.9 270.9,778.5 290.8,786.2" fill="none" stroke="#000" stroke-width="1.3"/>
<polyline points="290.8,786.2 310.6,792.3" fill="none" stroke="#000" stroke-width="1.45"/>
<polyline points="310.6,793" fill="none" stroke="#000" stroke-width="1.45"/>
<polyline points="211.7,676 231.4,701.5 251,725.5 270.9,753.8 290.8,772.3 310.6,785.5" fill="none" stroke="#000" stroke-width="1.3"/>
<rect x="207.29999999999998" y="735.1" width="8.8" height="7.8" fill="#fff" stroke="#000" stroke-width="1.7"/>
<rect x="227.0" y="748.4" width="8.8" height="7.8" fill="#fff" stroke="#000" stroke-width="1.7"/>
<rect x="246.6" y="769.0" width="8.8" height="7.8" fill="#fff" stroke="#000" stroke-width="1.7"/>
<rect x="266.5" y="774.6" width="8.8" height="7.8" fill="#fff" stroke="#000" stroke-width="1.7"/>
<rect x="286.40000000000003" y="782.3000000000001" width="8.8" height="7.8" fill="#fff" stroke="#000" stroke-width="1.7"/>
<path d="M306.20000000000005,796.0 V790.0 H315.0 V796.0" fill="#fff" stroke="#000" stroke-width="1.7"/>
<polygon points="211.7,671.5 217.29999999999998,680.5 206.1,680.5" fill="#000"/>
<polygon points="231.4,697.0 237.0,706.0 225.8,706.0" fill="#000"/>
<polygon points="251,721.0 256.6,730.0 245.4,730.0" fill="#000"/>
<polygon points="270.9,749.3 276.5,758.3 265.29999999999995,758.3" fill="#000"/>
<polygon points="290.8,767.8 296.40000000000003,776.8 285.2,776.8" fill="#000"/>
<polygon points="310.6,781.0 316.20000000000005,790.0 305.0,790.0" fill="#000"/>
<line x1="200.1" y1="660.2" x2="201.9" y2="660.2" stroke="#000" stroke-width="1"/>
<line x1="200.1" y1="712.5" x2="201.9" y2="712.5" stroke="#000" stroke-width="1"/>
<line x1="200.1" y1="764.9" x2="201.9" y2="764.9" stroke="#000" stroke-width="1"/>
<rect x="362.7" y="726.9" width="8.800000000000034" height="64.39999999999993" fill="#fff" stroke="#000" stroke-width="1.8"/>
<rect x="372.3" y="660.0" width="9.599999999999989" height="131.2999999999999" fill="#7b7b7b" stroke="#000" stroke-width="1.8"/>
<rect x="427.3" y="751.0999999999999" width="8.799999999999978" height="40.2" fill="#fff" stroke="#000" stroke-width="1.8"/>
<rect x="436.7" y="694.3" width="8.700000000000012" height="96.99999999999996" fill="#7b7b7b" stroke="#000" stroke-width="1.8"/>
<rect x="491.2" y="760.4" width="7.8000000000000345" height="30.89999999999993" fill="#fff" stroke="#000" stroke-width="1.8"/>
<rect x="499.7" y="725.0" width="8.9" height="66.29999999999991" fill="#7b7b7b" stroke="#000" stroke-width="1.8"/>
<line x1="368.2" y1="704.6" x2="368.2" y2="754.2" stroke="#000" stroke-width="1.5"/>
<line x1="366.0" y1="704.6" x2="370.4" y2="704.6" stroke="#000" stroke-width="1.3"/>
<line x1="366.0" y1="754.2" x2="370.4" y2="754.2" stroke="#000" stroke-width="1.3"/>
<line x1="378.1" y1="640.7" x2="378.1" y2="676.9" stroke="#000" stroke-width="1.5"/>
<line x1="375.90000000000003" y1="640.7" x2="380.3" y2="640.7" stroke="#000" stroke-width="1.3"/>
<line x1="375.90000000000003" y1="676.9" x2="380.3" y2="676.9" stroke="#000" stroke-width="1.3"/>
<line x1="432.3" y1="731.2" x2="432.3" y2="764.6" stroke="#000" stroke-width="1.5"/>
<line x1="430.1" y1="731.2" x2="434.5" y2="731.2" stroke="#000" stroke-width="1.3"/>
<line x1="430.1" y1="764.6" x2="434.5" y2="764.6" stroke="#000" stroke-width="1.3"/>
<line x1="441.5" y1="676.9" x2="441.5" y2="710.4" stroke="#000" stroke-width="1.5"/>
<line x1="439.3" y1="676.9" x2="443.7" y2="676.9" stroke="#000" stroke-width="1.3"/>
<line x1="439.3" y1="710.4" x2="443.7" y2="710.4" stroke="#000" stroke-width="1.3"/>
<line x1="495.6" y1="751.8" x2="495.6" y2="769.7" stroke="#000" stroke-width="1.5"/>
<line x1="493.40000000000003" y1="751.8" x2="497.8" y2="751.8" stroke="#000" stroke-width="1.3"/>
<line x1="493.40000000000003" y1="769.7" x2="497.8" y2="769.7" stroke="#000" stroke-width="1.3"/>
<line x1="505.2" y1="704.3" x2="505.2" y2="736.8" stroke="#000" stroke-width="1.5"/>
<line x1="503.0" y1="704.3" x2="507.4" y2="704.3" stroke="#000" stroke-width="1.3"/>
<line x1="503.0" y1="736.8" x2="507.4" y2="736.8" stroke="#000" stroke-width="1.3"/>
<line x1="356.6" y1="629.8" x2="356.6" y2="791.3" stroke="#000" stroke-width="1.2"/>
<line x1="356.0" y1="791.3" x2="520" y2="791.3" stroke="#000" stroke-width="1.2"/>
<line x1="354.6" y1="630.6" x2="356.6" y2="630.6" stroke="#000" stroke-width="1.2"/>
<text x="353.3" y="635.31" font-size="16" text-anchor="end" class="sf">40</text>
<line x1="354.6" y1="671.1" x2="356.6" y2="671.1" stroke="#000" stroke-width="1.2"/>
<text x="353.3" y="677.21" font-size="16" text-anchor="end" class="sf">30</text>
<line x1="354.6" y1="711.4" x2="356.6" y2="711.4" stroke="#000" stroke-width="1.2"/>
<text x="353.3" y="716.61" font-size="16" text-anchor="end" class="sf">20</text>
<line x1="354.6" y1="751.4" x2="356.6" y2="751.4" stroke="#000" stroke-width="1.2"/>
<text x="353.3" y="756.81" font-size="16" text-anchor="end" class="sf">10</text>
<line x1="354.6" y1="791.3" x2="356.6" y2="791.3" stroke="#000" stroke-width="1.2"/>
<text x="353.3" y="798.11" font-size="16" text-anchor="end" class="sf">0</text>
<text x="374.6" y="810.5" font-size="16" text-anchor="middle" class="sf">10</text>
<text x="430.7" y="810.5" font-size="16" text-anchor="middle" class="sf">5</text>
<text x="504.4" y="810.5" font-size="16" text-anchor="middle" class="sf">2.5</text>
</svg>
</body></html>
